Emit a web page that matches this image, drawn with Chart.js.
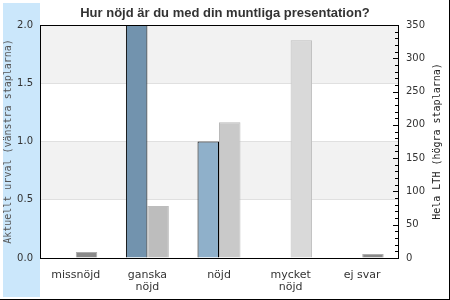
<!DOCTYPE html>
<html>
<head>
<meta charset="utf-8">
<script src="https://cdn.jsdelivr.net/npm/chart.js@4"></script>
<style>
    html, body { margin: 0; padding: 0; background: #fff; }
    canvas { display: block; }
</style>
</head>
<body>
<canvas id="chart" width="450" height="300"></canvas>
<script>
const categories = ['missnöjd', ['ganska', 'nöjd'], 'nöjd', ['mycket', 'nöjd'], 'ej svar'];
const urvalValues = [0, 2, 1, 0, 0];        // vänstra staplarna
const lthValues = [9, 78, 204, 327, 6];     // högra staplarna
const leftTicks = [0, 0.5, 1, 1.5, 2];
const rightTicks = [0, 50, 100, 150, 200, 250, 300, 350];

const urvalColors = ['#8fb0ca', '#7293ae', '#8fb0ca', '#8fb0ca', '#8fb0ca'];
const lthColors = ['#8a8a8a', '#bdbdbd', '#c9c9c9', '#d9d9d9', '#8a8a8a'];
const lthBorders = ['#adadad', '#bdbdbd', '#b9b9b9', '#bdbdbd', '#adadad'];

const tickFont = { family: 'DejaVu Sans', size: 10 };
const monoFont = { family: 'DejaVu Sans Mono', size: 10 };

// bakgrund: blått fält, grå band, ram
const framePlugin = {
    id: 'frame',
    beforeDraw: (chart) => {
        const { ctx, chartArea: { left, top, right, bottom } } = chart;
        const y = chart.scales.y;
        ctx.save();
        ctx.fillStyle = '#fff';
        ctx.fillRect(0, 0, chart.width, chart.height);
        ctx.fillStyle = '#cbe7fb';
        ctx.fillRect(3, 3, left - 3, chart.height - 6);
        ctx.fillStyle = '#f2f2f2';
        [[0.5, 1], [1.5, 2]].forEach(([lo, hi]) => {
            const yHi = y.getPixelForValue(hi);
            ctx.fillRect(left, yHi, right - left, y.getPixelForValue(lo) - yHi);
        });
        ctx.fillStyle = '#000';
        ctx.fillRect(chart.width - 1, 0, 1, chart.height);
        ctx.fillRect(0, chart.height - 1, chart.width, 1);
        ctx.restore();
    },
    afterDraw: (chart) => {
        const { ctx, chartArea: { left, top, right, bottom } } = chart;
        const y1 = chart.scales.y1;
        ctx.save();
        ctx.strokeStyle = '#000';
        ctx.lineWidth = 1;
        ctx.strokeRect(left + 0.5, top + 0.5, right - left, bottom - top);

        // små streck på högra axeln
        ctx.beginPath();
        for (let v = y1.min; v <= y1.max; v += 10) {
            const py = Math.round(y1.getPixelForValue(v)) + 0.5;
            const len = v % 50 === 0 ? 5 : 3;
            ctx.moveTo(right - len, py);
            ctx.lineTo(right, py);
        }
        ctx.stroke();

        ctx.fillStyle = '#222';
        ctx.font = '10px "DejaVu Sans Mono"';
        ctx.textAlign = 'center';
        ctx.textBaseline = 'middle';
        ctx.translate(437, (top + bottom) / 2);
        ctx.rotate(-Math.PI / 2);
        ctx.fillText('Hela LTH (högra staplarna)', 0, 0);
        ctx.restore();
    },
};

new Chart(document.getElementById('chart'), {
    type: 'bar',
    data: {
        labels: categories,
        datasets: [
            {
                label: 'Aktuellt urval',
                data: urvalValues,
                yAxisID: 'y',
                backgroundColor: urvalColors,
                borderColor: '#000',
                borderWidth: (c) => (c.raw ? 1 : 0),
            }, {
                label: 'Hela LTH',
                data: lthValues,
                yAxisID: 'y1',
                backgroundColor: lthColors,
                borderColor: lthBorders,
                borderWidth: 1,
            },
        ],
    },
    options: {
        responsive: false,
        animation: false,
        devicePixelRatio: 1,
        layout: { padding: 0 },
        categoryPercentage: 0.6,
        barPercentage: 1,
        scales: {
            x: {
                grid: { display: false },
                border: { display: false },
                ticks: {
                    color: '#333',
                    font: { family: 'DejaVu Sans', size: 11, lineHeight: '12px' },
                    padding: 3,
                    maxRotation: 0,
                    autoSkip: false,
                },
                afterFit: (scale) => { scale.height = 42; },
            },
            y: {
                position: 'left',
                min: leftTicks[0],
                max: leftTicks[leftTicks.length - 1],
                afterBuildTicks: (scale) => { scale.ticks = leftTicks.map((value) => ({ value })); },
                grid: { color: '#e0e0e0', drawTicks: false },
                border: { display: false },
                ticks: {
                    color: '#333',
                    font: tickFont,
                    padding: 7,
                    callback: (v) => v.toFixed(1),
                },
                title: {
                    display: true,
                    text: 'Aktuellt urval (vänstra staplarna)',
                    color: '#555',
                    font: monoFont,
                    padding: { top: 2, bottom: 0 },
                },
                afterFit: (scale) => { scale.width = 40; },
            },
            y1: {
                position: 'right',
                min: rightTicks[0],
                max: rightTicks[rightTicks.length - 1],
                afterBuildTicks: (scale) => { scale.ticks = rightTicks.map((value) => ({ value })); },
                grid: { drawOnChartArea: false, drawTicks: false },
                border: { display: false },
                ticks: {
                    color: '#333',
                    font: tickFont,
                    padding: 8,
                },
                afterFit: (scale) => { scale.width = 52; },
            },
        },
        plugins: {
            legend: { display: false },
            tooltip: { enabled: false },
            title: {
                display: true,
                text: 'Hur nöjd är du med din muntliga presentation?',
                color: '#333',
                font: { family: 'Liberation Sans', size: 13, weight: 'bold', lineHeight: '16px' },
                padding: { top: 5, bottom: 4 },
            },
        },
    },
    plugins: [framePlugin],
});
</script>
</body>
</html>
